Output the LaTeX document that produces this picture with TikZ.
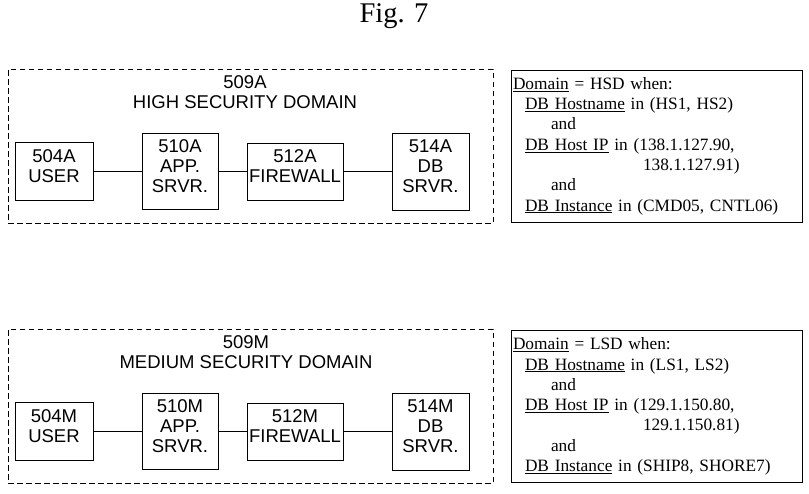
\documentclass[tikz,border=0pt]{standalone}
\usepackage{fontspec}
\setmainfont{Liberation Serif}
\newfontfamily\arialfont{Liberation Sans}
% extra depth so the box text sits a little high
\newcommand{\liftup}{\rule[-10pt]{0pt}{10pt}}

\begin{document}
\begin{tikzpicture}[x=1pt,y=-1pt,line width=1pt,
	comp/.style={draw,align=center,inner sep=0pt,font=\arialfont\fontsize{18.5}{20}\selectfont},
	domlabel/.style={align=center,inner sep=0pt,font=\arialfont\fontsize{18.5}{20}\selectfont},
	domainbox/.style={draw,dash pattern=on 5.5pt off 3.5pt,inner sep=0pt,minimum width=485pt,minimum height=154pt},
	rulebox/.style={draw,align=left,inner xsep=2pt,text width=287pt,minimum height=152pt,font=\fontsize{17.3}{20.3}\selectfont}]
	\useasboundingbox (0,0) rectangle (809,493);

	% title
	\node[anchor=base,font=\fontsize{28.5}{30}\selectfont] (fig) at (394,22) {Fig. 7};

	% high security domain
	\node[domainbox] (hsd) at (250.5,146) {};
	\node[domlabel] (hsdlabel) at (245,92) {509A\\HIGH SECURITY DOMAIN};
	\node[comp,minimum width=78pt,minimum height=58pt] (userA) at (54,171.5) {504A\\USER\liftup};
	\node[comp,minimum width=76pt,minimum height=76pt] (appA) at (180,171.5) {510A\\APP.\\SRVR.\liftup};
	\node[comp,minimum width=96pt,minimum height=57pt] (fwA) at (295,171.5) {512A\\FIREWALL\liftup};
	\node[comp,minimum width=77pt,minimum height=77pt] (dbA) at (430.5,171.5) {514A\\DB\\SRVR.\liftup};
	\draw (userA) -- (appA) -- (fwA) -- (dbA);

	% rule for HSD
	\node[rulebox] (hsdrule) at (656.5,146) {\underline{Domain} = HSD when:\\
		\hspace*{12pt}\underline{DB Hostname} in (HS1, HS2)\\
		\hspace*{38pt}and\\
		\hspace*{12pt}\underline{DB Host IP} in (138.1.127.90,\\
		\hspace*{130pt}138.1.127.91)\\
		\hspace*{38pt}and\\
		\hspace*{12pt}\underline{DB Instance} in (CMD05, CNTL06)};

	% medium security domain
	\node[domainbox] (msd) at (250.5,406) {};
	\node[domlabel] (msdlabel) at (246,352) {509M\\MEDIUM SECURITY DOMAIN};
	\node[comp,minimum width=78pt,minimum height=58pt] (userM) at (54,431.5) {504M\\USER\liftup};
	\node[comp,minimum width=76pt,minimum height=76pt] (appM) at (180,431.5) {510M\\APP.\\SRVR.\liftup};
	\node[comp,minimum width=96pt,minimum height=57pt] (fwM) at (295,431.5) {512M\\FIREWALL\liftup};
	\node[comp,minimum width=77pt,minimum height=77pt] (dbM) at (430.5,431.5) {514M\\DB\\SRVR.\liftup};
	\draw (userM) -- (appM) -- (fwM) -- (dbM);

	% rule for LSD
	\node[rulebox] (msdrule) at (656.5,406.5) {\underline{Domain} = LSD when:\\
		\hspace*{12pt}\underline{DB Hostname} in (LS1, LS2)\\
		\hspace*{38pt}and\\
		\hspace*{12pt}\underline{DB Host IP} in (129.1.150.80,\\
		\hspace*{130pt}129.1.150.81)\\
		\hspace*{38pt}and\\
		\hspace*{12pt}\underline{DB Instance} in (SHIP8, SHORE7)};
\end{tikzpicture}
\end{document}
